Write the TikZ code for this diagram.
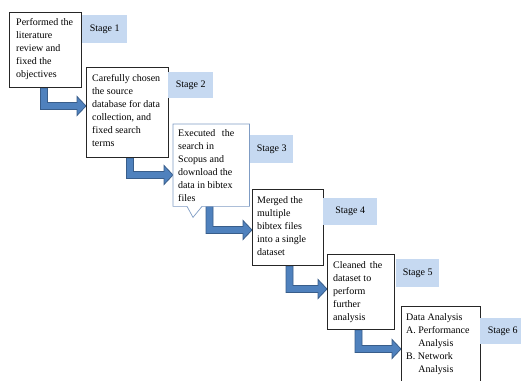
\documentclass[tikz,border=0pt]{standalone}
\usepackage{fontspec}
\setmainfont{Liberation Serif}
\usetikzlibrary{calc,shadows}

\definecolor{stagefill}{HTML}{C6D9F1}
\definecolor{arrowfill}{HTML}{4F81BD}
\definecolor{arrowedge}{HTML}{385D8A}
\definecolor{calloutedge}{HTML}{7F9CC4}

\tikzset{
  stepbox/.style={rectangle, draw=black!85, line width=0.9pt, fill=white,
    anchor=north west, inner sep=0pt,
    drop shadow={shadow xshift=1pt, shadow yshift=-1pt, fill=black, opacity=0.3}},
  calloutframe/.style={rectangle, anchor=north west, inner sep=0pt},
  calloutline/.style={fill=white, draw=calloutedge, line width=0.7pt},
  steptext/.style={anchor=north west, inner sep=0pt, align=left,
    font=\fontsize{10}{13}\selectfont},
  stagelabel/.style={rectangle, fill=stagefill, anchor=north west, inner sep=0pt,
    font=\fontsize{10}{13}\selectfont},
  bent/.style={fill=arrowfill, draw=arrowedge, line width=0.8pt, line join=miter},
}

% Bent block arrow: down out of #1, then right into the west side of #2.
% #3 = shaft offset from the west edge of #1, #4 = depth of the horizontal
% shaft below the top of #2.
\newcommand\bentarrow[4]{%
  \filldraw[bent] let \p1=(#1.south west), \p2=(#2.north west),
      \n1={\x1+#3pt}, \n2={\y2-#4pt}, \n3={\x2} in
    (\n1-3.5pt,\y1) -- (\n1-3.5pt,\n2-3.5pt) -- (\n3-9pt,\n2-3.5pt)
    -- (\n3-9pt,\n2-9.5pt) -- (\n3+0pt,\n2+0pt) -- (\n3-9pt,\n2+9.5pt)
    -- (\n3-9pt,\n2+3.5pt) -- (\n1+3.5pt,\n2+3.5pt) -- (\n1+3.5pt,\y1) -- cycle;}

\begin{document}
\begin{tikzpicture}[x=1pt,y=1pt]
  \useasboundingbox (0,0) rectangle (521,380);

  % frames of the six steps
  \node[calloutframe, minimum width=76pt, minimum height=82pt] (b3) at (173,256) {};
  \node[stepbox, minimum width=72pt, minimum height=75pt] (b1) at (9,368) {};
  \node[stepbox, minimum width=82pt, minimum height=90pt] (b2) at (86,313) {};
  \node[stepbox, minimum width=71pt, minimum height=76pt] (b4) at (252,191) {};
  \node[stepbox, minimum width=67pt, minimum height=75pt] (b5) at (327,126) {};
  \node[stepbox, minimum width=79pt, minimum height=80pt] (b6) at (401,74) {};

  % arrows between consecutive steps
  \bentarrow{b1}{b2}{35}{39}
  \bentarrow{b2}{b3}{44}{51}
  \bentarrow{b3}{b4}{36.5}{41}
  \bentarrow{b4}{b5}{37.5}{35}
  \bentarrow{b5}{b6}{31.5}{43}

  % redraw the frames over the arrow roots
  \node[stepbox, minimum width=72pt, minimum height=75pt] at (9,368) {};
  \node[stepbox, minimum width=82pt, minimum height=90pt] at (86,313) {};
  \node[stepbox, minimum width=71pt, minimum height=76pt] at (252,191) {};
  \node[stepbox, minimum width=67pt, minimum height=75pt] at (327,126) {};
  \node[stepbox, minimum width=79pt, minimum height=80pt] at (401,74) {};

  % step 3 is a callout with a small tail
  \filldraw[calloutline] (b3.north west) -- (b3.north east) -- (b3.south east)
    -- ([xshift=29pt]b3.south west) -- ([shift={(20pt,-11pt)}]b3.south west)
    -- ([xshift=14pt]b3.south west) -- (b3.south west) -- cycle;

  % step texts
  \node[steptext] (t1) at ([shift={(7pt,-6pt)}]b1.north west)
    {Performed the\\literature\\review and\\fixed the\\objectives};
  \node[steptext] (t2) at ([shift={(6pt,-7pt)}]b2.north west)
    {Carefully chosen\\the source\\database for data\\collection, and\\fixed search\\terms};
  \node[steptext] (t3) at ([shift={(5pt,-5pt)}]b3.north west)
    {\makebox[56pt][s]{Executed the}\\search in\\Scopus and\\download the\\data in bibtex\\files};
  \node[steptext] (t4) at ([shift={(5pt,-7pt)}]b4.north west)
    {Merged the\\multiple\\bibtex files\\into a single\\dataset};
  \node[steptext] (t5) at ([shift={(6pt,-7pt)}]b5.north west)
    {\makebox[49pt][s]{Cleaned the}\\dataset to\\perform\\further\\analysis};
  \node[steptext] (t6) at ([shift={(5pt,-7pt)}]b6.north west)
    {Data Analysis\\A. Performance\\\hspace*{12.2pt}Analysis\\B. Network\\\hspace*{12.2pt}Analysis};

  % stage labels
  \node[stagelabel, minimum width=45pt, minimum height=28pt] (s1) at (82,365) {Stage 1};
  \node[stagelabel, minimum width=45pt, minimum height=26pt] (s2) at (168,308) {Stage 2};
  \node[stagelabel, minimum width=43pt, minimum height=28pt] (s3) at (250,245) {Stage 3};
  \node[stagelabel, minimum width=54pt, minimum height=27pt] (s4) at (323,182) {Stage 4};
  \node[stagelabel, minimum width=43pt, minimum height=28pt] (s5) at (396,121) {Stage 5};
  \node[stagelabel, minimum width=45pt, minimum height=26pt] (s6) at (480,62) {Stage 6};
\end{tikzpicture}
\end{document}
